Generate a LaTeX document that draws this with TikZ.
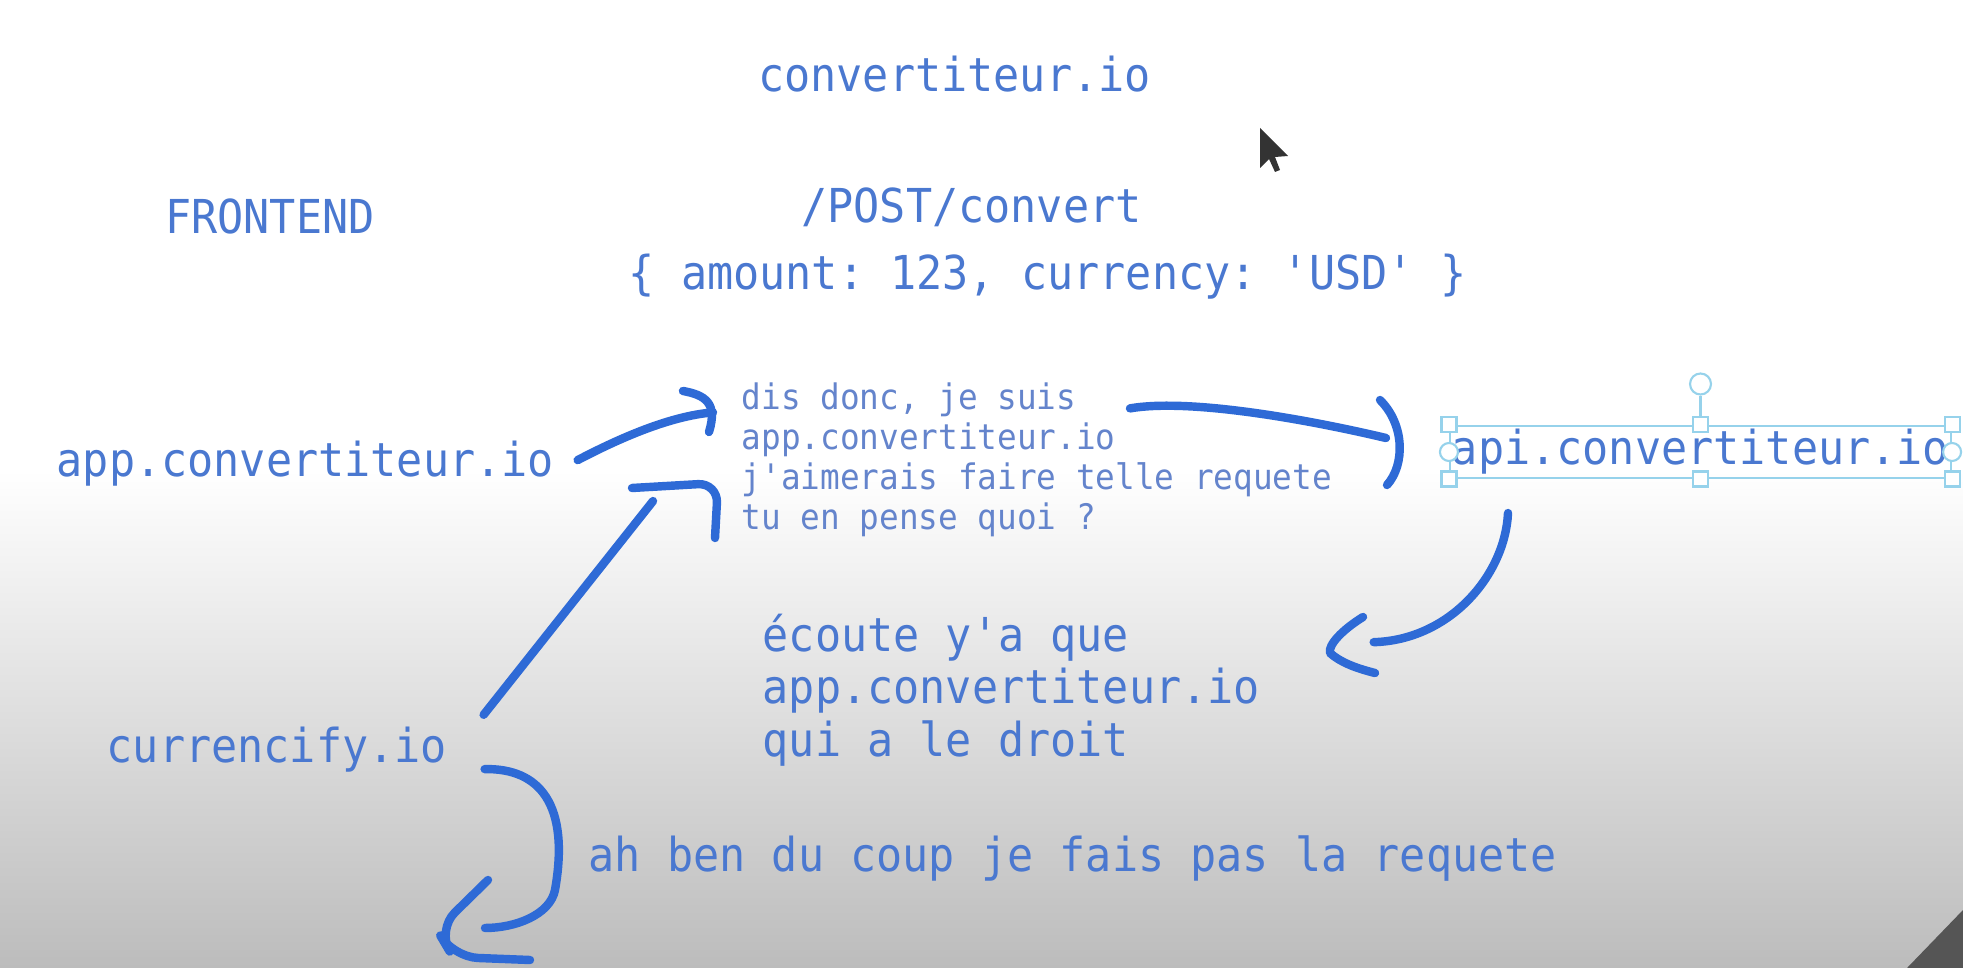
\documentclass[tikz,border=0pt]{standalone}
\usepackage{fontspec}
\usepackage{tikz}
\usetikzlibrary{positioning}
\usetikzlibrary{calc}
\newfontfamily\codefont[FakeStretch=0.93]{DejaVu Sans Mono}
\frenchspacing
\definecolor{txtblue}{RGB}{74,120,208}
\definecolor{msgblue}{RGB}{100,132,204}
\definecolor{inkblue}{RGB}{46,106,214}
\definecolor{selcyan}{RGB}{150,210,235}
\definecolor{bggray}{RGB}{188,188,188}
\definecolor{cornergray}{RGB}{85,85,85}
\tikzset{%
  txt/.style    = {text=txtblue, inner sep=0pt, font=\codefont\fontsize{13.3}{14.9}\selectfont},
  msg/.style    = {text=msgblue, inner sep=0pt, align=left, font=\codefont\fontsize{10}{11.4}\selectfont},
  ink/.style    = {draw=inkblue, line width=2.4pt, line cap=round, line join=round}, % hand strokes
  selbox/.style = {draw=selcyan, line width=0.6pt}, % selection frame
  grip/.style   = {selbox, fill=white, rectangle, minimum size=0.15cm, inner sep=0pt},
  ring/.style   = {selbox, fill=white, circle, minimum size=0.18cm, inner sep=0pt}
}

\begin{document}
\begin{tikzpicture}
  \useasboundingbox (0,0) rectangle (19.63,-9.68);
  \fill[white] (0,0) rectangle (19.63,-4.7);
  \shade[top color=white, bottom color=bggray] (0,-4.7) rectangle (19.63,-9.68);
  \fill[cornergray] (19.07,-9.68) -- (19.63,-9.10) -- (19.63,-9.68) -- cycle;

  % mouse pointer
  \fill[black!80] (12.60,-1.28) -- (12.60,-1.68) -- (12.69,-1.59) -- (12.75,-1.72)
    -- (12.80,-1.70) -- (12.75,-1.57) -- (12.88,-1.56) -- cycle;

  \draw node at (9.545,-0.92) [txt, anchor=base] (site) {convertiteur.io};
  \draw node at (2.70,-2.34) [txt, anchor=base] (front) {FRONTEND};
  \draw node at (9.715,-2.23) [txt, anchor=base] (route) {/POST/convert};
  \draw node at (10.475,-2.90) [txt, anchor=base] (payload) {\{ amount: 123, currency: 'USD' \}};

  \draw node at (0.56,-4.77) [txt, anchor=base west] (app) {app.convertiteur.io};
  \draw node at (7.41,-5.30) [msg, anchor=base west] (ask)
    {dis donc, je suis\\app.convertiteur.io\\j'aimerais faire telle requete\\tu en pense quoi ?};
  \draw node at (17.005,-4.52) [txt, selbox, minimum width=5.01cm, minimum height=0.52cm] (api) {api.convertiteur.io};
  \draw node at (7.62,-7.56) [txt, align=left, anchor=base west] (reply)
    {écoute y'a que\\app.convertiteur.io\\qui a le droit};
  \draw node at (1.06,-7.63) [txt, anchor=base west] (curr) {currencify.io};
  \draw node at (5.88,-8.71) [txt, anchor=base west] (refuse) {ah ben du coup je fais pas la requete};

  % selection handles
  \draw node at (api.north west) [grip] (gnw) {};
  \draw node at (api.north) [grip] (gn) {};
  \draw node at (api.north east) [grip] (gne) {};
  \draw node at (api.west) [ring] (gw) {};
  \draw node at (api.east) [ring] (ge) {};
  \draw node at (api.south west) [grip] (gsw) {};
  \draw node at (api.south) [grip] (gs) {};
  \draw node at (api.south east) [grip] (gse) {};
  \draw node at (17.005,-3.84) [ring, minimum size=0.21cm] (rot) {};
  \draw[selbox] (rot) -- (gn);

  % app -> ask
  \coordinate (appout) at ($(app.east)+(0.23,0.04)$);
  \coordinate (askin) at ($(ask.north west)+(-0.28,-0.30)$);
  \draw[ink] (appout) .. controls (6.20,-4.38) and (6.70,-4.16) .. (askin);
  \draw[ink] (6.83,-3.91) .. controls (7.05,-3.95) and (7.18,-4.03) .. (7.09,-4.32);

  % ask -> api
  \coordinate (askout) at ($(ask.north west)+(3.89,-0.26)$);
  \coordinate (apiin) at ($(api.west)+(-0.63,0.14)$);
  \draw[ink] (askout) .. controls (11.9,-3.98) and (13.1,-4.20) .. (apiin);
  \draw[ink] (13.80,-4.00) .. controls (14.05,-4.25) and (14.05,-4.65) .. (13.87,-4.85);

  % api -> reply
  \coordinate (apiout) at ($(api.south)+(-1.925,-0.34)$);
  \coordinate (replyin) at ($(reply.north east)+(1.13,-0.29)$);
  \draw[ink] (apiout) .. controls (15.05,-5.75) and (14.5,-6.40) .. (replyin);
  \draw[ink] (13.63,-6.17) .. controls (13.42,-6.30) and (13.28,-6.45) .. (13.30,-6.53)
    .. controls (13.40,-6.62) and (13.55,-6.68) .. (13.75,-6.73);

  % curr -> ask
  \coordinate (currup) at ($(curr.north east)+(0.36,0.12)$);
  \coordinate (askback) at ($(ask.south west)+(-0.88,0.37)$);
  \draw[ink] (currup) -- (askback);
  \draw[ink, rounded corners=0.2cm] (6.32,-4.88) -- (7.18,-4.83) -- (7.15,-5.38);

  % curr -> refuse
  \coordinate (currdown) at ($(curr.east)+(0.37,-0.19)$);
  \coordinate (back) at (4.85,-9.28);
  \draw[ink] (currdown) .. controls (5.40,-7.68) and (5.70,-8.05) .. (5.55,-8.90)
    .. controls (5.50,-9.15) and (5.15,-9.28) .. (back);
  \draw[ink, rounded corners=0.25cm] (4.88,-8.80) -- (4.37,-9.30) -- (4.53,-9.57) -- (5.30,-9.60);

\end{tikzpicture}
\end{document}
